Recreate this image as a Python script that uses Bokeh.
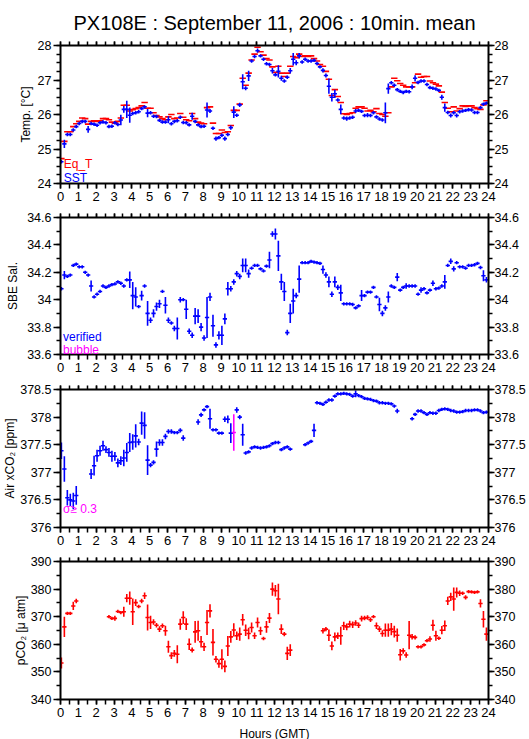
import numpy as np
from bokeh.plotting import figure
from bokeh.models import Range1d, LinearAxis, SingleIntervalTicker, NumeralTickFormatter, Label
from bokeh.layouts import column
from bokeh.embed import file_html
from bokeh.resources import INLINE

NA = np.nan

# ---------------- data (10-minute means, 144 per day) ----------------
N_STEPS = 144
STEP_MIN = 10
OFFSET_MIN = 3
HOURS = (np.arange(N_STEPS) * STEP_MIN + OFFSET_MIN) / 60.0

SST = [
    24.63, 25.15, 25.42, 25.42, 25.55, 25.65,
    25.74, 25.80, 25.80, 25.57, 25.74, 25.72,
    25.69, 25.76, 25.78, 25.76, 25.65, 25.66,
    25.76, 25.71, 25.84, 26.15, 26.15, 25.98,
    26.03, 26.05, 26.08, 26.17, 26.22, 26.04,
    26.05, 25.95, 25.94, 25.83, 25.78, 25.78,
    25.85, 25.73, 25.80, 25.82, 25.92, 25.77,
    25.76, 25.70, 25.95, 25.80, 25.70, 25.65,
    25.66, 26.13, 26.10, 25.60, 25.30, 25.33,
    25.40, 25.30, 25.42, 25.62, 26.07, 25.98,
    26.28, 26.95, 26.76, 27.12, 27.55, 27.68,
    27.85, 27.70, 27.60, 27.47, 27.45, 27.27,
    27.15, 27.25, 27.05, 26.97, 27.08, 27.27,
    27.60, 27.50, 27.70, 27.52, 27.60, 27.55,
    27.55, 27.57, 27.48, 27.38, 27.28, 27.13,
    26.82, 26.50, 26.60, 26.42, 26.15, 25.90,
    25.88, 25.90, 25.92, 26.10, 26.12, 26.09,
    25.97, 25.98, 25.97, 26.05, 25.93, 25.87,
    25.84, 26.05, 26.75, 26.92, 26.85, 26.72,
    26.67, 26.64, 26.67, 26.66, 26.80, 27.05,
    26.93, 26.97, 26.97, 26.87, 26.78, 26.76,
    26.74, 26.70, 26.50, 26.20, 26.06, 25.97,
    26.05, 25.97, 26.08, 26.10, 26.12, 26.14,
    26.13, 26.06, 26.06, 26.20, 26.30, 26.33,
]
SST_SD = [
    0.04, 0.12, 0.04, 0.04, 0.04, 0.04,
    0.04, 0.04, 0.04, 0.10, 0.04, 0.04,
    0.04, 0.04, 0.04, 0.04, 0.04, 0.04,
    0.04, 0.04, 0.15, 0.10, 0.25, 0.22,
    0.04, 0.04, 0.04, 0.04, 0.04, 0.12,
    0.04, 0.04, 0.04, 0.04, 0.04, 0.04,
    0.10, 0.04, 0.04, 0.04, 0.04, 0.04,
    0.04, 0.04, 0.10, 0.04, 0.04, 0.04,
    0.04, 0.22, 0.06, 0.04, 0.06, 0.05,
    0.04, 0.06, 0.04, 0.06, 0.17, 0.05,
    0.06, 0.22, 0.06, 0.15, 0.05, 0.05,
    0.06, 0.04, 0.04, 0.04, 0.04, 0.08,
    0.05, 0.18, 0.07, 0.04, 0.04, 0.08,
    0.18, 0.07, 0.08, 0.04, 0.04, 0.04,
    0.04, 0.04, 0.04, 0.04, 0.06, 0.06,
    0.22, 0.12, 0.12, 0.05, 0.14, 0.04,
    0.06, 0.05, 0.04, 0.06, 0.04, 0.04,
    0.04, 0.06, 0.05, 0.04, 0.05, 0.05,
    0.05, 0.30, 0.15, 0.05, 0.04, 0.05,
    0.04, 0.05, 0.04, 0.05, 0.07, 0.09,
    0.05, 0.04, 0.04, 0.04, 0.04, 0.04,
    0.04, 0.04, 0.07, 0.12, 0.04, 0.06,
    0.04, 0.06, 0.04, 0.04, 0.04, 0.04,
    0.04, 0.04, 0.04, 0.04, 0.05, 0.05,
]
EQ_T = [
    24.72, 25.22, 25.50, 25.50, 25.65, 25.73,
    25.80, 25.90, 25.88, 25.72, 25.80, 25.82,
    25.80, 25.82, 25.88, 25.88, 25.85, 25.78,
    25.75, 25.80, 25.90, 26.27, 26.27, 26.10,
    26.14, 26.17, 26.20, 26.25, 26.35, 26.18,
    26.18, 26.05, 25.97, 25.93, 25.88, 25.85,
    25.93, 26.00, 25.88, 25.90, 26.03, 25.92,
    25.85, 25.82, 26.03, 25.88, 25.78, 25.75,
    25.73, 26.20, 26.22, 25.75, 25.45, 25.45,
    25.55, 25.48, 25.50, 25.68, 26.12, 26.12,
    26.30, 27.05, 26.85, 27.20, 27.58, 27.75,
    27.95, 27.82, 27.72, 27.62, 27.58, 27.38,
    27.22, 27.40, 27.20, 27.10, 27.20, 27.40,
    27.68, 27.65, 27.75, 27.68, 27.70, 27.68,
    27.70, 27.62, 27.55, 27.45, 27.40, 27.25,
    27.02, 26.55, 26.72, 26.52, 26.35, 26.02,
    26.00, 26.03, 26.05, 26.18, 26.22, 26.22,
    26.18, 26.10, 26.12, 26.08, 26.17, 26.03,
    26.00, 25.95, 26.05, 26.80, 27.05, 26.98,
    26.90, 26.85, 26.80, 26.80, 26.80, 26.92,
    27.17, 27.08, 27.10, 27.10, 26.97, 26.92,
    26.88, 26.83, 26.65, 26.35, 26.18, 26.08,
    26.22, 26.10, 26.17, 26.25, 26.23, 26.25,
    26.25, 26.20, 26.17, 26.15, 26.28, 26.40,
]
SAL = [
    34.08, 34.18, 34.17, 34.18, 34.25, 34.26,
    34.24, 34.24, 34.20, 34.18, 34.10, 34.02,
    34.04, 34.06, 34.10, 34.09, 34.10, 34.11,
    34.115, 34.13, 34.12, 34.10, 34.145, 34.145,
    34.03, 34.02, 33.95, 34.03, 34.10, 33.90,
    33.85, 33.90, 33.95, 33.97, 34.06, 33.96,
    33.85, 33.83, 33.79, 33.79, 34.00, 34.00,
    33.93, 33.77, 33.74, 33.88, 33.88, 33.80,
    33.72, 33.87, 34.02, 33.81, 33.67, 33.74,
    33.74, 33.86, 34.08, 34.08, 34.13, 34.19,
    34.17, 34.25, 34.25, 34.19, 34.23, 34.25,
    34.25, 34.225, 34.21, 34.245, 34.29, 34.48,
    34.48, 34.32, 34.13, 34.06, 33.76, 33.90,
    33.99, 34.03, 34.15, 34.27, 34.27, 34.27,
    34.28, 34.275, 34.27, 34.265, 34.22, 34.18,
    34.13, 34.04, 34.13, 34.09, 34.05, 33.97,
    33.97, 33.97, 33.965, 33.94, 33.955, 34.03,
    34.03, 34.055, 34.055, 34.09, 34.02, 33.965,
    33.90, 33.94, 34.02, 34.10, 34.09, 34.165,
    34.07, 34.09, 34.10, 34.10, 34.10, 34.10,
    34.04, 34.07, 34.08, 34.05, 34.07, 34.12,
    34.08, 34.085, 34.10, 34.13, 34.25, 34.28,
    34.225, 34.27, 34.24, 34.24, 34.23, 34.25,
    34.25, 34.255, 34.265, 34.235, 34.175, 34.145,
]
SAL_SD = [
    0.012, 0.03, 0.012, 0.012, 0.012, 0.012,
    0.012, 0.012, 0.012, 0.012, 0.04, 0.012,
    0.012, 0.012, 0.012, 0.012, 0.012, 0.012,
    0.012, 0.012, 0.012, 0.012, 0.012, 0.06,
    0.10, 0.07, 0.012, 0.035, 0.012, 0.09,
    0.02, 0.03, 0.03, 0.03, 0.012, 0.06,
    0.02, 0.012, 0.02, 0.08, 0.02, 0.012,
    0.07, 0.02, 0.02, 0.06, 0.05, 0.03,
    0.02, 0.15, 0.03, 0.08, 0.02, 0.03,
    0.07, 0.04, 0.05, 0.02, 0.02, 0.02,
    0.02, 0.05, 0.05, 0.03, 0.012, 0.012,
    0.012, 0.012, 0.012, 0.012, 0.06, 0.02,
    0.04, 0.11, 0.06, 0.07, 0.02, 0.07,
    0.09, 0.02, 0.10, 0.012, 0.012, 0.012,
    0.012, 0.012, 0.012, 0.012, 0.03, 0.02,
    0.04, 0.02, 0.04, 0.02, 0.06, 0.012,
    0.012, 0.012, 0.012, 0.012, 0.012, 0.04,
    0.012, 0.012, 0.012, 0.012, 0.012, 0.05,
    0.02, 0.02, 0.04, 0.012, 0.012, 0.03,
    0.012, 0.012, 0.02, 0.012, 0.012, 0.012,
    0.012, 0.02, 0.012, 0.012, 0.012, 0.02,
    0.012, 0.012, 0.012, 0.05, 0.012, 0.02,
    0.02, 0.012, 0.012, 0.012, 0.012, 0.012,
    0.012, 0.012, 0.012, 0.012, 0.04, 0.02,
]
XCO2 = [
    377.39, 377.06, 376.54, 376.50, 376.48, 376.58,
    NA, NA, NA, NA, 376.97, 377.12,
    377.30, 377.39, 377.48, 377.41, 377.36, 377.29,
    377.29, 377.17, 377.21, 377.26, 377.36, 377.54,
    377.55, 377.66, 377.55, 377.89, 377.85, 377.22,
    377.13, 377.18, 377.42, 377.54, 377.54, 377.65,
    377.74, 377.74, 377.72, 377.72, 377.76, 377.62,
    NA, NA, NA, NA, 377.91, 378.04,
    378.13, 378.19, 377.97, 377.77, 377.77, 377.71,
    377.71, 377.96, 377.96, 377.71, 377.72, 378.13,
    378.00, 377.68, 377.35, 377.37, 377.44, 377.46,
    377.45, 377.44, 377.45, 377.46, 377.48, 377.52,
    377.54, 377.54, 377.41, 377.44, 377.46, 377.42,
    NA, NA, NA, NA, 377.50, 377.53,
    377.56, 377.76, 378.26, 378.25, 378.23, 378.27,
    378.31, 378.31, 378.38, 378.42, 378.42, 378.43,
    378.42, 378.41, 378.38, 378.42, 378.39, 378.37,
    378.34, 378.33, 378.32, 378.30, 378.29, 378.26,
    378.26, 378.25, 378.25, 378.24, 378.20, 378.11,
    NA, NA, NA, NA, 377.97, 378.05,
    378.11, 378.11, 378.08, 378.05, 378.08, 378.07,
    378.07, 378.12, 378.14, 378.15, 378.14, 378.12,
    378.11, 378.09, 378.09, 378.10, 378.12, 378.12,
    378.12, 378.13, 378.13, 378.11, 378.08, 378.09,
]
XCO2_SD = [
    0.15, 0.23, 0.14, 0.11, 0.15, 0.17,
    0.03, 0.03, 0.03, 0.03, 0.09, 0.18,
    0.11, 0.09, 0.09, 0.06, 0.08, 0.10,
    0.08, 0.08, 0.08, 0.15, 0.17, 0.17,
    0.14, 0.21, 0.06, 0.21, 0.24, 0.27,
    0.04, 0.04, 0.14, 0.06, 0.06, 0.05,
    0.04, 0.04, 0.03, 0.03, 0.04, 0.05,
    0.03, 0.03, 0.03, 0.03, 0.05, 0.04,
    0.03, 0.03, 0.18, 0.03, 0.02, 0.03,
    0.03, 0.05, 0.07, 0.18, 0.33, 0.05,
    0.04, 0.20, 0.03, 0.03, 0.03, 0.03,
    0.03, 0.03, 0.03, 0.03, 0.03, 0.03,
    0.03, 0.03, 0.03, 0.03, 0.03, 0.03,
    0.03, 0.03, 0.03, 0.03, 0.03, 0.03,
    0.03, 0.12, 0.03, 0.03, 0.03, 0.03,
    0.03, 0.03, 0.03, 0.03, 0.03, 0.03,
    0.03, 0.03, 0.03, 0.06, 0.03, 0.03,
    0.03, 0.03, 0.03, 0.03, 0.03, 0.03,
    0.03, 0.03, 0.03, 0.03, 0.03, 0.04,
    0.03, 0.03, 0.03, 0.03, 0.03, 0.03,
    0.03, 0.03, 0.03, 0.03, 0.03, 0.03,
    0.03, 0.03, 0.03, 0.03, 0.03, 0.03,
    0.03, 0.03, 0.03, 0.03, 0.03, 0.03,
    0.03, 0.03, 0.03, 0.03, 0.03, 0.03,
]
# 1 = sigma >= 0.3 (drawn in magenta)
XCO2_FLAG = [
    0, 0, 0, 0, 0, 0,  0, 0, 0, 0, 0, 0,  0, 0, 0, 0, 0, 0,  0, 0, 0, 0, 0, 0,
    0, 0, 0, 0, 0, 0,  0, 0, 0, 0, 0, 0,  0, 0, 0, 0, 0, 0,  0, 0, 0, 0, 0, 0,
    0, 0, 0, 0, 0, 0,  0, 0, 0, 0, 1, 0,  0, 0, 0, 0, 0, 0,  0, 0, 0, 0, 0, 0,
    0, 0, 0, 0, 0, 0,  0, 0, 0, 0, 0, 0,  0, 0, 0, 0, 0, 0,  0, 0, 0, 0, 0, 0,
    0, 0, 0, 0, 0, 0,  0, 0, 0, 0, 0, 0,  0, 0, 0, 0, 0, 0,  0, 0, 0, 0, 0, 0,
    0, 0, 0, 0, 0, 0,  0, 0, 0, 0, 0, 0,  0, 0, 0, 0, 0, 0,  0, 0, 0, 0, 0, 0,
]
PCO2 = [
    353.2, 366.3, 371.2, 371.2, 373.9, 375.7,
    NA, NA, NA, NA, NA, NA,
    NA, NA, NA, NA, 370.0, 369.4,
    369.4, 371.9, 371.5, 371.8, 376.7, 376.7,
    371.8, 375.1, 373.7, 375.7, 377.6, 369.7,
    367.9, 368.1, 366.9, 365.5, 366.7, 364.9,
    359.1, 355.9, 356.7, 356.4, 367.3, 369.7,
    367.3, 360.0, 357.9, 364.5, 364.9, 360.9,
    359.1, 367.9, 372.1, 360.7, 354.6, 353.0,
    354.6, 352.0, 359.4, 362.7, 365.2, 363.1,
    363.7, 368.9, 365.1, 363.9, 366.1, 363.1,
    367.9, 364.9, 362.1, 366.3, 369.5, 380.0,
    379.4, 376.4, 365.5, 363.7, 356.7, 357.9,
    NA, NA, NA, NA, NA, NA,
    NA, NA, NA, NA, 364.9, 365.5,
    363.3, 359.4, 362.7, 363.1, 363.1, 366.7,
    366.3, 367.3, 367.1, 367.7, 366.9, 369.3,
    369.5, 369.7, 368.9, 370.0, 366.7, 365.5,
    363.9, 365.1, 365.1, 365.5, 364.6, 363.3,
    356.2, 357.6, 356.1, 363.3, 362.7, 362.5,
    359.1, 359.1, 359.8, 361.3, 361.9, 366.9,
    363.1, 362.2, 365.1, 366.7, 375.7, 377.2,
    376.4, 378.8, 378.5, 378.5, 377.0, 379.1,
    379.0, 378.8, 379.0, 374.8, 369.1, 363.7,
]
PCO2_SD = [
    2.0, 3.7, 0.6, 0.6, 1.5, 0.8,
    0.6, 0.6, 0.6, 0.6, 0.6, 0.6,
    0.6, 0.6, 0.6, 0.6, 0.5, 0.5,
    0.9, 0.6, 0.5, 1.8, 1.5, 2.4,
    4.8, 1.2, 0.6, 0.8, 1.2, 4.7,
    2.4, 1.0, 0.8, 1.0, 0.8, 1.8,
    2.2, 1.2, 1.2, 3.3, 2.0, 2.3,
    2.1, 2.1, 0.9, 3.9, 3.6, 2.1,
    1.5, 4.5, 2.4, 4.8, 1.2, 1.5,
    3.6, 2.1, 3.6, 2.1, 2.4, 1.5,
    2.4, 2.1, 2.1, 2.1, 1.8, 1.2,
    1.8, 1.5, 0.6, 2.1, 1.8, 2.4,
    2.1, 5.5, 1.8, 0.8, 2.4, 2.1,
    0.6, 0.6, 0.6, 0.6, 0.6, 0.6,
    0.6, 0.6, 0.6, 0.6, 1.0, 0.8,
    2.1, 1.6, 1.6, 1.2, 3.3, 1.5,
    1.2, 1.2, 1.2, 1.0, 1.0, 1.0,
    0.8, 0.8, 0.8, 0.6, 1.2, 1.0,
    1.2, 2.4, 2.4, 2.2, 2.1, 2.4,
    2.1, 1.0, 1.0, 5.1, 1.0, 0.8,
    0.4, 0.4, 0.6, 0.6, 1.0, 2.0,
    1.8, 0.6, 1.5, 1.9, 1.5, 1.5,
    4.2, 1.8, 1.0, 0.6, 0.8, 0.4,
    0.3, 0.4, 0.4, 1.5, 3.0, 2.4,
]

TITLE = "PX108E : September 11, 2006 : 10min. mean"
X_LABEL = "Hours (GMT)"
Y_LABELS = ["Temp. [°C]", "SBE Sal.", "Air xCO₂ [ppm]", "pCO₂ [μ atm]"]

# ---------------- styling ----------------
FONT = "Liberation Sans"
BLUE = "#0000ff"
RED = "#ff0000"
MAGENTA = "#ff00ff"
LW = 1.6
FRAME_W = 428
X_TICK_FS = "13px"
Y_TICK_FS = "12.5px"
LABEL_FS = "12px"


def style_axis(ax, out, minor_out, standoff, font_size=None):
    ax.axis_line_width = 2
    ax.axis_line_color = "black"
    ax.major_tick_line_width = 1.5
    ax.minor_tick_line_width = 1.5
    ax.major_tick_in = 0
    ax.minor_tick_in = 0
    ax.major_tick_out = out
    ax.minor_tick_out = minor_out
    ax.major_label_standoff = standoff
    ax.major_label_text_font = FONT
    if font_size is not None:
        ax.major_label_text_color = "black"
        ax.major_label_text_font_size = font_size
    else:
        ax.major_label_text_color = None
        ax.major_label_text_font_size = "2px"
    ax.axis_label_text_font = FONT
    ax.axis_label_text_font_size = LABEL_FS
    ax.axis_label_text_font_style = "normal"
    ax.axis_label_text_color = "black"


def make_panel(yr, yint, yminor, frame_h, top, bottom, ylabel, ylabel_standoff,
               xlabel=None, title=None):
    kw = {}
    if title is not None:
        kw["title"] = title
    p = figure(frame_width=FRAME_W, frame_height=frame_h,
               min_border_left=58, min_border_right=43,
               min_border_top=top, min_border_bottom=bottom,
               x_range=Range1d(0, 24), y_range=Range1d(*yr),
               x_axis_location=None, y_axis_location=None,
               toolbar_location=None, output_backend="svg", **kw)
    p.grid.visible = False
    p.outline_line_color = None
    xt = SingleIntervalTicker(interval=1, num_minor_ticks=2)
    yt = SingleIntervalTicker(interval=yint, num_minor_ticks=yminor)
    below = LinearAxis(ticker=xt, formatter=NumeralTickFormatter(format="0"))
    above = LinearAxis(ticker=xt, formatter=NumeralTickFormatter(format="0"))
    left = LinearAxis(ticker=yt, formatter=NumeralTickFormatter(format="0.[0]"),
                      axis_label=ylabel)
    right = LinearAxis(ticker=yt, formatter=NumeralTickFormatter(format="0.[0]"))
    style_axis(below, 5, 5, 3, X_TICK_FS)
    style_axis(above, 4, 4, 0)
    style_axis(left, 7, 4, 2, Y_TICK_FS)
    style_axis(right, 6, 4, 0, Y_TICK_FS)
    left.axis_label_standoff = ylabel_standoff
    if xlabel is not None:
        below.axis_label = xlabel
        below.axis_label_standoff = 7
    p.add_layout(below, "below")
    p.add_layout(above, "above")
    p.add_layout(left, "left")
    p.add_layout(right, "right")
    if title is not None:
        p.title.text_font = FONT
        p.title.text_font_size = "20px"
        p.title.text_font_style = "normal"
        p.title.text_color = "black"
        p.title.align = "center"
        p.title.offset = -4
        p.title.standoff = 16
    return p


def crosses(p, y, sd, color, hw, min_half, mask=None, vertical=True):
    y = np.asarray(y, float)
    sd = np.maximum(np.asarray(sd, float), min_half)
    ok = np.isfinite(y)
    if mask is not None:
        ok &= mask
    x = HOURS[ok]
    yy = y[ok]
    ss = sd[ok]
    if vertical:
        p.segment(x0=x, y0=yy - ss, x1=x, y1=yy + ss, line_color=color, line_width=LW)
    p.segment(x0=x - hw, y0=yy, x1=x + hw, y1=yy, line_color=color, line_width=LW)


def text(p, x, y, s, color="black"):
    p.add_layout(Label(x=x, y=y, text=s, text_color=color, text_font=FONT,
                       text_font_size=LABEL_FS, text_align="left",
                       text_baseline="alphabetic"))


# ---------------- panel 1: temperature ----------------
p1 = make_panel((24, 28), 1, 4, 138, 45, 25, Y_LABELS[0], 2, title=TITLE)
crosses(p1, EQ_T, np.zeros(N_STEPS), RED, 0.18, 0.0, vertical=False)
crosses(p1, SST, SST_SD, BLUE, 0.12, 0.05)
text(p1, 0.18, 24.57, "Eq_T", RED)
text(p1, 0.18, 24.16, "SST", BLUE)

# ---------------- panel 2: salinity ----------------
p2 = make_panel((33.6, 34.6), 0.2, 2, 137, 9, 26, Y_LABELS[1], 4)
crosses(p2, SAL, SAL_SD, BLUE, 0.12, 0.012)
text(p2, 0.14, 33.726, "verified", BLUE)
text(p2, 0.14, 33.636, "bubble", MAGENTA)

# ---------------- panel 3: air xCO2 ----------------
p3 = make_panel((376, 378.5), 0.5, 2, 138, 9, 25, Y_LABELS[2], 0)
flag = np.asarray(XCO2_FLAG) == 1
crosses(p3, XCO2, XCO2_SD, BLUE, 0.12, 0.03, mask=~flag)
crosses(p3, XCO2, XCO2_SD, MAGENTA, 0.12, 0.03, mask=flag)
text(p3, 0.14, 376.334, "σ≥ 0.3", MAGENTA)

# ---------------- panel 4: pCO2 ----------------
p4 = make_panel((340, 390), 10, 2, 138, 9, 40, Y_LABELS[3], 0, xlabel=X_LABEL)
crosses(p4, PCO2, PCO2_SD, RED, 0.12, 0.6)

layout = column(p1, p2, p3, p4, spacing=0)
open("out.html", "w").write(file_html(layout, INLINE))
